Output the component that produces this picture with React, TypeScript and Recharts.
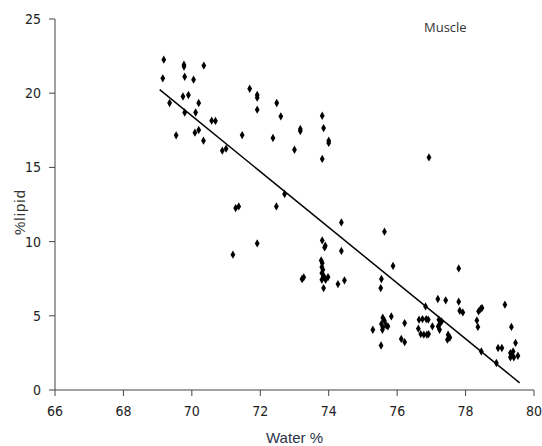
import { ReferenceLine, Scatter, ScatterChart, XAxis, YAxis, ZAxis } from 'recharts'

const X_TICKS = [66, 68, 70, 72, 74, 76, 78, 80]
const Y_TICKS = [0, 5, 10, 15, 20, 25]

// water %, lipid %
const water = [
  69.18, 69.15, 69.77, 69.77, 70.35, 69.79, 70.05, 69.74, 69.9, 69.35, 70.2, 69.79, 70.11, 70.58, 70.69,
  69.54, 70.09, 70.2, 70.34, 70.89, 71.0, 71.69, 71.91, 71.91, 72.48, 71.91, 71.47, 72.37,
  72.6, 73.17, 73.17, 73.81, 73.85, 74.0, 74.0, 73.0, 73.81,
  71.28, 71.37, 72.47, 71.91, 71.2,
  72.71, 74.37, 75.63, 73.81, 73.9, 73.88, 74.37,
  73.78, 73.81, 73.8, 73.83, 73.8, 73.85, 73.8, 73.91, 73.98, 73.85,
  73.22, 73.27, 74.27, 74.46, 75.54, 75.52,
  76.93, 75.88, 77.8,
  77.19, 77.42, 77.8, 77.83, 77.92, 78.38, 78.44, 78.48, 78.33, 78.36,
  79.15, 79.34, 79.46, 78.95, 79.06,
  79.31, 79.34, 79.39, 79.41, 79.53, 79.31,
  78.46, 78.9, 76.83, 75.83,
  75.58, 75.63, 75.54, 75.58, 75.68, 75.57, 75.73,
  76.22, 75.29, 75.53, 76.12, 76.22,
  76.64, 76.74, 76.85, 76.91, 76.62, 76.69, 76.78, 76.87, 76.92,
  77.03, 77.22, 77.26, 77.2, 77.24, 77.3, 77.49, 77.54, 77.47
]
const lipid = [
  22.26, 21.0, 21.92, 21.8, 21.86, 21.11, 20.91, 19.78, 19.88, 19.34, 19.34, 18.7, 18.7, 18.15, 18.13,
  17.16, 17.34, 17.52, 16.8, 16.13, 16.26, 20.3, 19.88, 19.7, 19.34, 18.89, 17.18, 16.98,
  18.44, 17.59, 17.45, 18.48, 17.65, 16.8, 16.65, 16.19, 15.57,
  12.26, 12.37, 12.37, 9.88, 9.12,
  13.21, 11.29, 10.67, 10.08, 9.72, 9.61, 9.37,
  8.73, 8.56, 8.29, 8.11, 7.88, 7.7, 7.43, 7.43, 7.61, 6.87,
  7.48, 7.59, 7.14, 7.39, 7.48, 6.87,
  15.67, 8.36, 8.19,
  6.13, 6.04, 5.95, 5.34, 5.23, 5.3, 5.46, 5.53, 4.69, 4.25,
  5.75, 4.25, 3.17, 2.83, 2.83,
  2.49, 2.33, 2.6, 2.2, 2.31, 2.2,
  2.6, 1.82, 5.63, 4.96,
  4.87, 4.67, 4.45, 4.22, 4.35, 4.06, 4.29,
  4.51, 4.06, 3.0, 3.44, 3.23,
  4.74, 4.78, 4.78, 4.74, 4.13, 3.77, 3.73, 3.73, 3.77,
  4.29, 4.74, 4.51, 4.29, 4.06, 4.62, 3.73, 3.54, 3.39
]

// linear fit end points
const fitLine = [
  { x: 69.06, y: 20.24 },
  { x: 79.58, y: 0.48 }
]

const points = water.map((w, i) => ({ x: w, y: lipid[i] }))

const tickFont = {
  fill: '#222',
  fontSize: 14,
  fontFamily: "'DejaVu Sans Condensed', 'Liberation Sans Narrow', 'Noto Sans', sans-serif",
  fontStretch: 'condensed'
}

export default function App() {
  return (
    <div style={{ position: 'absolute', left: 0, top: 0, width: 542, height: 446, background: '#fff' }}>
      <ScatterChart width={542} height={446} margin={{ top: 19, right: 8, left: 0, bottom: 16 }}>
        <XAxis
          type="number"
          dataKey="x"
          domain={[66, 80]}
          ticks={X_TICKS}
          interval={0}
          stroke="#444"
          tickSize={6}
          tickMargin={10}
          tick={tickFont}
          height={40}
          label={{
            value: 'Water %',
            position: 'insideBottom',
            offset: -13,
            fill: '#2a3348',
            fontSize: 15,
            fontFamily: "'Liberation Sans', Arial, sans-serif"
          }}
        />
        <YAxis
          type="number"
          dataKey="y"
          domain={[0, 25]}
          ticks={Y_TICKS}
          interval={0}
          stroke="#444"
          tickSize={6}
          tickMargin={8}
          tick={tickFont}
          width={55}
        />
        <ZAxis type="number" range={[20, 20]} />
        <ReferenceLine segment={fitLine} stroke="#000" strokeWidth={1.5} ifOverflow="extendDomain" />
        <Scatter data={points} fill="#000" shape="diamond" isAnimationActive={false} />
        <text
          x={19}
          y={212}
          transform="rotate(-90 19 212)"
          textAnchor="middle"
          dominantBaseline="central"
          fontSize={15}
          letterSpacing={1}
          fill="#333"
          fontFamily="'Liberation Sans', Arial, sans-serif"
        >
          %lipid
        </text>
        <text
          x={424}
          y={32}
          fontSize={13}
          fill="#333"
          fontFamily="'Open Sans', 'Liberation Sans', sans-serif"
        >
          Muscle
        </text>
      </ScatterChart>
    </div>
  )
}
